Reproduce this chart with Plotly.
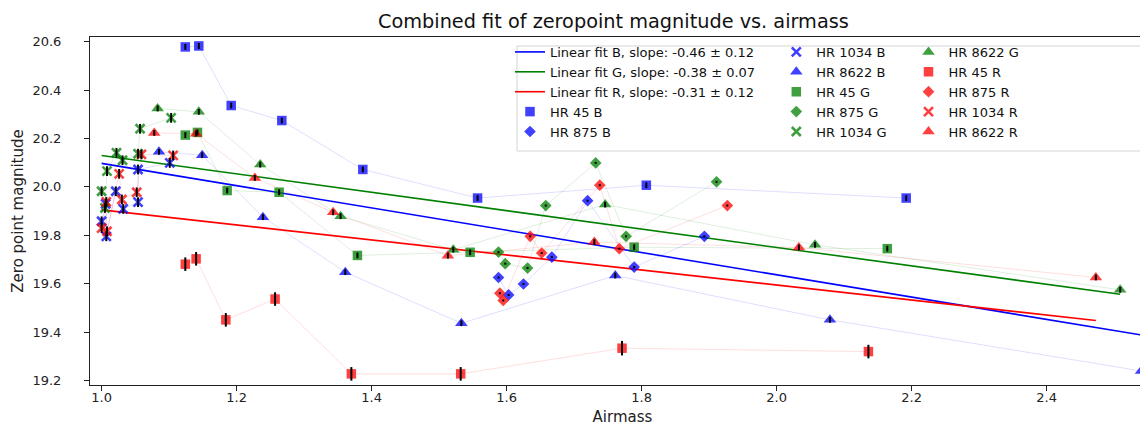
import plotly.graph_objects as go

# ---------------- data (airmass, zero point, error) ----------------
hr45_b_x = [1.124, 1.144, 1.192, 1.267, 1.387, 1.557, 1.807, 2.192]
hr45_b_y = [20.578, 20.582, 20.336, 20.274, 20.072, 19.954, 20.007, 19.954]
hr45_b_e = [0.012, 0.012, 0.012, 0.012, 0.012, 0.012, 0.012, 0.012]

hr875_b_x = [1.588, 1.603, 1.625, 1.667, 1.720, 1.789, 1.893]
hr875_b_y = [19.626, 19.554, 19.599, 19.710, 19.943, 19.669, 19.796]
hr875_b_e = [0.004, 0.004, 0.004, 0.004, 0.004, 0.004, 0.004]

hr1034_b_x = [1.000, 1.006, 1.007, 1.021, 1.032, 1.054, 1.054, 1.101]
hr1034_b_y = [19.858, 19.930, 19.796, 19.982, 19.909, 19.937, 20.072, 20.099]
hr1034_b_e = [0.02, 0.02, 0.02, 0.02, 0.02, 0.02, 0.02, 0.02]

hr8622_b_x = [1.085, 1.149, 1.239, 1.361, 1.533, 1.761, 2.079, 2.540]
hr8622_b_y = [20.145, 20.131, 19.875, 19.648, 19.437, 19.634, 19.451, 19.240]
hr8622_b_e = [0.012, 0.012, 0.012, 0.012, 0.012, 0.012, 0.012, 0.012]

hr45_g_x = [1.124, 1.142, 1.186, 1.263, 1.379, 1.546, 1.789, 2.164]
hr45_g_y = [20.214, 20.225, 19.985, 19.978, 19.717, 19.730, 19.751, 19.745]
hr45_g_e = [0.012, 0.012, 0.012, 0.012, 0.012, 0.012, 0.012, 0.012]

hr875_g_x = [1.588, 1.598, 1.631, 1.658, 1.732, 1.777, 1.911]
hr875_g_y = [19.731, 19.683, 19.665, 19.923, 20.099, 19.796, 20.021]
hr875_g_e = [0.004, 0.004, 0.004, 0.004, 0.004, 0.004, 0.004]

hr1034_g_x = [1.000, 1.005, 1.008, 1.022, 1.031, 1.054, 1.057, 1.103]
hr1034_g_y = [19.982, 19.913, 20.065, 20.141, 20.110, 20.137, 20.240, 20.285]
hr1034_g_e = [0.02, 0.02, 0.02, 0.02, 0.02, 0.02, 0.02, 0.02]

hr8622_g_x = [1.083, 1.144, 1.235, 1.354, 1.521, 1.746, 2.057, 2.509]
hr8622_g_y = [20.324, 20.310, 20.092, 19.879, 19.741, 19.927, 19.761, 19.575]
hr8622_g_e = [0.012, 0.012, 0.012, 0.012, 0.012, 0.012, 0.012, 0.012]

hr45_r_x = [1.124, 1.140, 1.184, 1.257, 1.370, 1.532, 1.771, 2.136]
hr45_r_y = [19.681, 19.703, 19.451, 19.537, 19.228, 19.228, 19.334, 19.320]
hr45_r_e = [0.028, 0.028, 0.028, 0.028, 0.028, 0.028, 0.03, 0.028]

hr875_r_x = [1.590, 1.595, 1.635, 1.652, 1.738, 1.767, 1.927]
hr875_r_y = [19.561, 19.531, 19.796, 19.727, 20.007, 19.745, 19.923]
hr875_r_e = [0.004, 0.004, 0.004, 0.004, 0.004, 0.004, 0.004]

hr1034_r_x = [1.000, 1.007, 1.008, 1.026, 1.030, 1.052, 1.059, 1.106]
hr1034_r_y = [19.830, 19.938, 19.817, 20.054, 19.948, 19.978, 20.134, 20.130]
hr1034_r_e = [0.02, 0.02, 0.02, 0.02, 0.02, 0.02, 0.02, 0.02]

hr8622_r_x = [1.078, 1.140, 1.227, 1.343, 1.513, 1.730, 2.033, 2.473]
hr8622_r_y = [20.223, 20.220, 20.037, 19.895, 19.716, 19.772, 19.750, 19.626]
hr8622_r_e = [0.012, 0.012, 0.012, 0.012, 0.012, 0.012, 0.012, 0.012]

# linear fit parameters per band
bands = ["B", "G", "R"]
fit_slope = [-0.46, -0.38, -0.31]
fit_slope_err = [0.12, 0.07, 0.12]
fit_intercept = [20.557, 20.510, 20.215]

x_ticks = [1.0, 1.2, 1.4, 1.6, 1.8, 2.0, 2.2, 2.4]
y_ticks = [19.2, 19.4, 19.6, 19.8, 20.0, 20.2, 20.4, 20.6]

title_text = "Combined fit of zeropoint magnitude vs. airmass"

# ---------------- styling ----------------
band_color = {"B": "#0000ff", "G": "#008000", "R": "#ff0000"}
band_rgb = {"B": "0,0,255", "G": "0,128,0", "R": "255,0,0"}
star_symbol = {"HR 45": "square", "HR 875": "diamond", "HR 1034": "x-thin", "HR 8622": "triangle-up"}
star_size = {"HR 45": 9.5, "HR 875": 9, "HR 1034": 9, "HR 8622": 11}

series = [
    ("HR 45", "B", hr45_b_x, hr45_b_y, hr45_b_e),
    ("HR 875", "B", hr875_b_x, hr875_b_y, hr875_b_e),
    ("HR 1034", "B", hr1034_b_x, hr1034_b_y, hr1034_b_e),
    ("HR 8622", "B", hr8622_b_x, hr8622_b_y, hr8622_b_e),
    ("HR 45", "G", hr45_g_x, hr45_g_y, hr45_g_e),
    ("HR 875", "G", hr875_g_x, hr875_g_y, hr875_g_e),
    ("HR 1034", "G", hr1034_g_x, hr1034_g_y, hr1034_g_e),
    ("HR 8622", "G", hr8622_g_x, hr8622_g_y, hr8622_g_e),
    ("HR 45", "R", hr45_r_x, hr45_r_y, hr45_r_e),
    ("HR 875", "R", hr875_r_x, hr875_r_y, hr875_r_e),
    ("HR 1034", "R", hr1034_r_x, hr1034_r_y, hr1034_r_e),
    ("HR 8622", "R", hr8622_r_x, hr8622_r_y, hr8622_r_e),
]

# legend columns (column-major like matplotlib)
legend_of = {}
order = ["fitB", "fitG", "fitR", "HR 45 B", "HR 875 B",
         "HR 1034 B", "HR 8622 B", "HR 45 G", "HR 875 G", "HR 1034 G",
         "HR 8622 G", "HR 45 R", "HR 875 R", "HR 1034 R", "HR 8622 R"]
for i, k in enumerate(order):
    legend_of[k] = ["legend", "legend2", "legend3"][i // 5]
rank_of = {k: i + 1 for i, k in enumerate(order)}

fig = go.Figure()

# faint connecting lines
for star, band, xs, ys, es in series:
    fig.add_trace(go.Scatter(
        x=xs, y=ys, mode="lines",
        line=dict(color=f"rgba({band_rgb[band]},0.13)", width=1),
        showlegend=False, hoverinfo="skip"))

# fit lines
for band, m, me, c in zip(bands, fit_slope, fit_slope_err, fit_intercept):
    allx = [x for s, b, xs, ys, es in series if b == band for x in xs]
    fx = [min(allx), max(allx)]
    fy = [c + m * v for v in fx]
    key = "fit" + band
    fig.add_trace(go.Scatter(
        x=fx, y=fy, mode="lines",
        line=dict(color=band_color[band], width=1.6),
        name=f"Linear fit {band}, slope: {m:.2f} \u00b1 {me:.2f}",
        legend=legend_of[key], legendrank=rank_of[key]))

# markers
for star, band, xs, ys, es in series:
    key = f"{star} {band}"
    sym = star_symbol[star]
    mk = dict(symbol=sym, size=star_size[star], color=band_color[band], opacity=0.75)
    if sym == "x-thin":
        mk["line"] = dict(color=band_color[band], width=2.6)
    else:
        mk["line"] = dict(width=0)
    fig.add_trace(go.Scatter(
        x=xs, y=ys, mode="markers", marker=mk, name=key,
        legend=legend_of[key], legendrank=rank_of[key]))

# error bars on top
for star, band, xs, ys, es in series:
    fig.add_trace(go.Scatter(
        x=xs, y=ys, mode="markers", marker=dict(opacity=0, size=1),
        error_y=dict(type="data", array=es, visible=True, color="black", thickness=2, width=0),
        showlegend=False, hoverinfo="skip"))

FONT = "DejaVu Sans"
legend_common = dict(bgcolor="rgba(0,0,0,0)", borderwidth=0, font=dict(family=FONT, size=13, color="#111"),
                     xanchor="left", yanchor="top", tracegroupgap=0, itemwidth=30,
                     orientation="v", traceorder="normal")

PLOT_L, PLOT_R, PLOT_T, PLOT_B = 82, 1147, 29, 377
PW, PH = PLOT_R - PLOT_L, PLOT_B - PLOT_T
LEG_Y = 0.98 + 7 / PH
fig.update_layout(
    width=1148, height=430,
    margin=dict(l=PLOT_L, r=1148 - PLOT_R, t=PLOT_T, b=430 - PLOT_B),
    paper_bgcolor="white", plot_bgcolor="white",
    font=dict(family=FONT, size=13, color="#111"),
    legend=dict(legend_common, x=0.400 - 6 / PW, y=LEG_Y),
    legend2=dict(legend_common, x=0.651 - 7 / PW, y=LEG_Y),
    legend3=dict(legend_common, x=0.777 - 9 / PW, y=LEG_Y),
    shapes=[dict(type="rect", xref="paper", yref="paper",
                 x0=(509 - PLOT_L) / PW, x1=(1141 - PLOT_L) / PW,
                 y0=(PLOT_B - 143) / PH, y1=(PLOT_B - 38) / PH,
                 line=dict(color="#d5d5d5", width=1), fillcolor="rgba(255,255,255,0.8)",
                 layer="above")],
    annotations=[dict(text=title_text, xref="paper", yref="paper",
                      x=(605 - PLOT_L) / PW, xanchor="center",
                      y=(PLOT_B - 14) / PH, yanchor="middle",
                      showarrow=False, borderpad=0,
                      font=dict(family=FONT, size=19.3, color="#111"))],
    showlegend=True,
)

fig.update_xaxes(
    range=[0.9828, 2.5606], tickmode="array", tickvals=x_ticks,
    ticktext=[f"{v:.1f}" for v in x_ticks],
    ticks="outside", ticklen=5, tickwidth=1, tickcolor="#222",
    showline=True, linecolor="#222", linewidth=1, mirror=True,
    showgrid=False, zeroline=False, ticklabelstandoff=-5,
    tickfont=dict(family=FONT, size=13, color="#222"),
    title=dict(text="Airmass", font=dict(family=FONT, size=15, color="#222"), standoff=7))
fig.update_yaxes(
    range=[19.182, 20.619], tickmode="array", tickvals=y_ticks,
    ticktext=[f"{v:.1f}" for v in y_ticks],
    ticks="outside", ticklen=5, tickwidth=1, tickcolor="#222",
    showline=True, linecolor="#222", linewidth=1, mirror=True,
    showgrid=False, zeroline=False, ticklabelstandoff=20,
    tickfont=dict(family=FONT, size=13, color="#222"),
    title=dict(text="Zero point magnitude", font=dict(family=FONT, size=15, color="#222"), standoff=5))

fig.write_html("out.html")
